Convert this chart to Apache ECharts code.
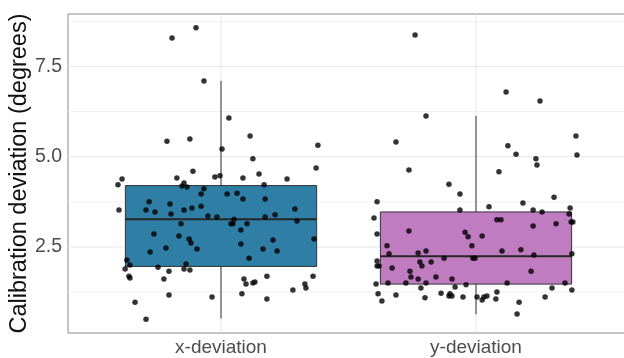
<!DOCTYPE html>
<html>
<head>
<meta charset="utf-8">
<script src="https://cdn.jsdelivr.net/npm/echarts@6/dist/echarts.min.js"></script>
<style>
html,body{margin:0;padding:0;background:#fff;}
#chart{width:624px;height:358px;}
</style>
</head>
<body>
<div id="chart"></div>
<script>
// Categories
const categories = ['x-deviation', 'y-deviation'];
const boxColors = ['#2f7ea6', '#c07cc0'];
// Box stats: [low whisker, Q1, median, Q3, high whisker]
const boxX = [0.52, 1.96, 3.27, 4.20, 7.10];
const boxY = [0.64, 1.47, 2.24, 3.47, 6.13];
// Jittered points (offset from category centre, value in degrees)
const xJitter = [-0.192,-0.098,-0.067,0.031,-0.212,-0.122,0.114,0.004,0.125,0.380,0.373,-0.110,0.149,-0.388,-0.173,-0.024,-0.004,0.086,0.259,
  -0.404,-0.153,-0.145,-0.133,0.169,-0.067,-0.078,0.024,0.063,0.086,0.173,-0.282,-0.200,-0.078,-0.400,-0.294,-0.259,-0.145,-0.114,-0.196,
  -0.051,-0.016,0.051,0.173,0.212,0.290,0.298,-0.157,0.039,0.047,0.102,0.078,-0.263,-0.165,-0.125,-0.118,0.078,0.204,0.365,-0.216,-0.278,
  -0.094,0.165,0.220,0.110,-0.369,-0.376,-0.357,-0.247,-0.137,-0.145,-0.122,-0.361,-0.357,-0.204,-0.224,0.090,0.098,0.125,0.133,0.180,
  0.361,0.329,0.333,0.282,-0.204,-0.035,0.082,0.180,-0.337,-0.294];
const xValues = [8.29,8.57,7.10,6.07,5.43,5.49,5.57,5.21,4.94,5.32,4.69,4.60,4.52,4.38,4.41,4.44,4.47,4.41,4.38,
  4.22,4.19,4.27,4.16,4.22,4.11,3.97,3.97,3.99,3.83,3.83,3.75,3.69,3.63,3.52,3.52,3.47,3.52,3.58,3.41,
  3.36,3.33,3.27,3.33,3.39,3.55,3.22,3.14,3.14,3.14,3.14,2.97,2.86,2.80,2.72,2.61,2.58,2.69,2.72,2.47,2.36,
  2.44,2.44,2.39,2.19,2.14,1.89,2.00,1.94,2.03,1.89,1.86,1.69,1.64,1.83,1.61,1.61,1.47,1.50,1.53,1.69,
  1.69,1.47,1.36,1.31,1.17,1.11,1.20,1.06,0.97,0.50];
const yJitter = [-0.239,0.118,0.251,-0.196,-0.314,-0.263,0.125,0.157,0.235,0.239,0.090,0.392,0.396,
  -0.106,-0.063,-0.388,-0.063,0.051,0.184,0.224,0.259,0.306,0.369,0.365,-0.400,0.082,0.098,-0.263,-0.388,
  -0.043,-0.031,0.024,0.224,0.314,0.373,0.380,-0.349,-0.341,-0.227,-0.196,-0.016,0.102,0.176,0.227,0.376,
  -0.012,-0.004,-0.125,-0.220,-0.176,-0.212,-0.388,-0.388,-0.380,-0.329,-0.259,0.216,-0.255,-0.227,-0.157,
  -0.094,-0.345,-0.275,-0.196,-0.039,0.122,0.349,-0.392,-0.216,-0.082,0.298,0.376,-0.384,-0.314,-0.137,
  -0.102,-0.094,-0.106,0.082,-0.200,-0.051,0.004,0.024,0.031,0.043,0.078,0.271,-0.369,0.169,0.161];
const yValues = [8.37,6.79,6.54,6.13,5.41,4.63,5.30,5.07,4.94,4.77,4.58,5.57,5.05,
  4.24,3.97,3.75,3.52,3.61,3.72,3.52,3.47,3.88,3.58,3.41,3.30,3.25,3.25,2.94,2.86,
  2.91,2.78,2.80,3.08,3.14,3.19,3.19,2.53,2.31,2.33,2.39,2.53,2.39,2.42,2.28,2.31,
  2.19,2.19,2.19,2.08,2.08,1.97,2.11,1.97,1.97,1.92,1.83,1.83,1.67,1.61,1.67,
  1.61,1.50,1.50,1.50,1.45,1.50,1.50,1.47,1.36,1.39,1.36,1.31,1.20,1.17,1.22,
  1.20,1.14,1.14,1.25,1.09,1.11,1.11,1.03,1.11,1.14,1.06,1.11,1.00,0.97,0.64];
const yTicks = [2.5, 5.0, 7.5];
const yMinor = [1.25, 3.75, 6.25, 8.75];
const xMin = 0.4, xMax = 2.6, yMin = 0.116, yMax = 8.953;

const pts = [];
xJitter.forEach((j, i) => pts.push([1 + j, xValues[i]]));
yJitter.forEach((j, i) => pts.push([2 + j, yValues[i]]));

const boxData = [[1].concat(boxX), [2].concat(boxY)];

// grid line items: [kind (0 = horizontal minor, 1 = horizontal major, 2 = vertical major), value]
const gridItems = []
  .concat(yMinor.map(v => [0, v]))
  .concat(yTicks.map(v => [1, v]))
  .concat([1, 2].map(v => [2, v]));

const chart = echarts.init(document.getElementById('chart'), null, {renderer: 'canvas'});
chart.setOption({
  animation: false,
  backgroundColor: '#ffffff',
  grid: {left: 68, right: -5, top: 14, bottom: 25, outerBoundsMode: 'none', containLabel: false,
         show: true, borderColor: '#8a8a8a', borderWidth: 1, backgroundColor: '#ffffff'},
  xAxis: {
    type: 'value', min: xMin, max: xMax,
    axisLine: {show: false}, axisTick: {show: false}, splitLine: {show: false},
    axisLabel: {
      customValues: [1, 2],
      formatter: v => categories[Math.round(v) - 1] || '',
      color: '#4d4d4d', fontSize: 19, fontFamily: 'Liberation Sans', margin: 5
    }
  },
  yAxis: {
    type: 'value', min: yMin, max: yMax,
    name: 'Calibration deviation (degrees)', nameLocation: 'middle', nameGap: 36, nameMoveOverlap: false,
    nameTextStyle: {color: '#111111', fontSize: 23.5, fontFamily: 'Liberation Sans'},
    axisLine: {show: false}, axisTick: {show: false}, splitLine: {show: false},
    axisLabel: {
      customValues: yTicks,
      formatter: v => v.toFixed(1),
      color: '#4d4d4d', fontSize: 19.5, fontFamily: 'Liberation Sans', margin: 6
    }
  },
  series: [
    {
      type: 'custom', z: 1, silent: true,
      data: gridItems,
      encode: {x: 1, y: 1},
      renderItem: function (params, api) {
        const kind = api.value(0), v = api.value(1);
        let a, b;
        if (kind === 2) { a = api.coord([v, yMin]); b = api.coord([v, yMax]); }
        else { a = api.coord([xMin, v]); b = api.coord([xMax, v]); }
        const col = kind === 0 ? '#f1f1f1' : '#e6e6e6';
        return {type: 'line', shape: {x1: a[0], y1: a[1], x2: b[0], y2: b[1]}, style: {stroke: col, lineWidth: 1}};
      }
    },
    {
      type: 'custom', z: 2, silent: true,
      data: boxData,
      encode: {x: 0, y: [1, 2, 3, 4, 5]},
      renderItem: function (params, api) {
        const c = api.value(0), lo = api.value(1), q1 = api.value(2), md = api.value(3), q3 = api.value(4), hi = api.value(5);
        const hw = 0.375;
        const top = api.coord([c, hi]), bot = api.coord([c, lo]);
        const tl = api.coord([c - hw, q3]), br = api.coord([c + hw, q1]);
        const ml = api.coord([c - hw, md]), mr = api.coord([c + hw, md]);
        return {type: 'group', children: [
          {type: 'line', shape: {x1: top[0], y1: top[1], x2: bot[0], y2: bot[1]}, style: {stroke: '#333333', lineWidth: 1}},
          {type: 'rect', shape: {x: tl[0], y: tl[1], width: br[0] - tl[0], height: br[1] - tl[1]}, style: {fill: boxColors[params.dataIndex], stroke: '#333333', lineWidth: 1}},
          {type: 'line', shape: {x1: ml[0], y1: ml[1], x2: mr[0], y2: mr[1]}, style: {stroke: '#262626', lineWidth: 2}}
        ]};
      }
    },
    {
      type: 'scatter', z: 3, silent: true,
      data: pts, symbol: 'circle', symbolSize: 5.5,
      itemStyle: {color: '#000000'}
    }
  ]
});
</script>
</body>
</html>
